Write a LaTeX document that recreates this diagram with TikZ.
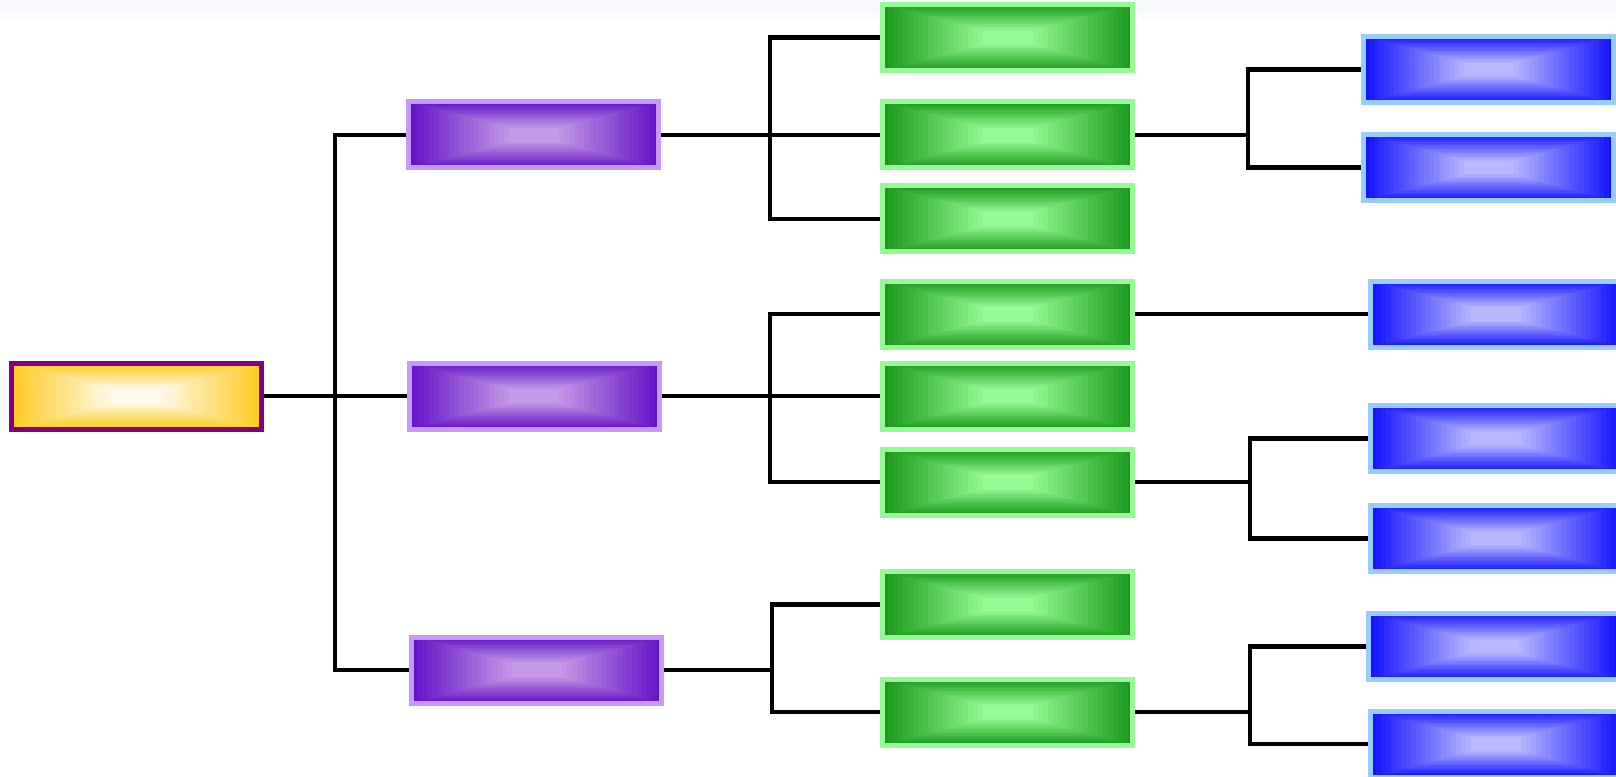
\documentclass[tikz,border=0pt]{standalone}
\usetikzlibrary{calc,backgrounds}
\definecolor{rootB}{HTML}{800080}
\definecolor{rootE}{HTML}{FFCB1F}
\definecolor{rootC}{HTML}{FFF9EE}
\definecolor{purB}{HTML}{C999FA}
\definecolor{purE}{HTML}{6414C8}
\definecolor{purC}{HTML}{C49AE6}
\definecolor{grnB}{HTML}{96F896}
\definecolor{grnE}{HTML}{1A9A1A}
\definecolor{grnC}{HTML}{96FA96}
\definecolor{bluB}{HTML}{99CCFF}
\definecolor{bluE}{HTML}{1414FF}
\definecolor{bluC}{HTML}{B9B9FF}
\definecolor{stripA}{HTML}{F7F8FB}
\definecolor{stripB}{HTML}{FBFCFE}
\tikzset{
  gbox/.style n args={3}{draw=#1, line width=3.75pt, minimum width=187.5pt,
    minimum height=49.5pt, inner sep=0pt, outer sep=0pt,
    path picture={
      \foreach \i in {0,...,20}{
        \pgfmathsetmacro{\f}{0.40*\i/20}
        \pgfmathtruncatemacro{\pc}{100-100*\i/20}
        \fill[#2!\pc!#3] ($(path picture bounding box.south west)!\f!(path picture bounding box.north east)$)
          rectangle ($(path picture bounding box.north east)!\f!(path picture bounding box.south west)$);
      }
    }},
  rootbox/.style={gbox={rootB}{rootE}{rootC}},
  purbox/.style={gbox={purB}{purE}{purC}},
  grnbox/.style={gbox={grnB}{grnE}{grnC}},
  blubox/.style={gbox={bluB}{bluE}{bluC}},
  link/.style={draw=black, line width=3.6pt, line join=miter},
}
\begin{document}
\begin{tikzpicture}[x=0.75pt, y=-0.75pt]
\clip (0,0) rectangle (1616,777);

% root and level 1
\node[rootbox] (root) at (136.5,396) {};
\node[purbox] (p1) at (533.5,135) {};
\node[purbox] (p2) at (534,396) {};
\node[purbox] (p3) at (536.5,670) {};

% level 2
\node[grnbox] (g1) at (1007.5,37.5) {};
\node[grnbox] (g2) at (1007.5,135) {};
\node[grnbox] (g3) at (1007.5,219) {};
\node[grnbox] (g4) at (1007.5,314) {};
\node[grnbox] (g5) at (1007.5,396) {};
\node[grnbox] (g6) at (1007.5,482) {};
\node[grnbox] (g7) at (1007.5,604.5) {};
\node[grnbox] (g8) at (1007.5,712) {};

% level 3
\node[blubox] (b1) at (1488.5,69.5) {};
\node[blubox] (b2) at (1488.5,167.5) {};
\node[blubox] (b3) at (1495.5,314) {};
\node[blubox] (b4) at (1495.5,438.5) {};
\node[blubox] (b5) at (1495.5,538.5) {};
\node[blubox] (b6) at (1493.5,646.5) {};
\node[blubox] (b7) at (1495.5,744) {};

\coordinate (j0) at (335,396);
\coordinate (j1) at (770,135);
\coordinate (j2) at (770,396);
\coordinate (j3) at (772,670);
\coordinate (j4) at (1248,135);
\coordinate (j5) at (1250,482);
\coordinate (j6) at (1250,712);

\begin{pgfonlayer}{background}
\fill[white] (0,0) rectangle (1616,777);
\fill[stripA] (0,0) rectangle (1616,11);
\fill[stripB] (0,11) rectangle (1616,22);

\draw[link] (root.east) -- (j0);
\draw[link] (p1.west) -- (j0 |- p1.west) -- (j0 |- p3.west) -- (p3.west);
\draw[link] (j0) -- (p2.west);

\draw[link] (p1.east) -- (j1);
\draw[link] (g1.west) -- (j1 |- g1.west) -- (j1 |- g3.west) -- (g3.west);
\draw[link] (j1) -- (g2.west);

\draw[link] (p2.east) -- (j2);
\draw[link] (g4.west) -- (j2 |- g4.west) -- (j2 |- g6.west) -- (g6.west);
\draw[link] (j2) -- (g5.west);

\draw[link] (p3.east) -- (j3);
\draw[link] (g7.west) -- (j3 |- g7.west) -- (j3 |- g8.west) -- (g8.west);

\draw[link] (g2.east) -- (j4);
\draw[link] (b1.west) -- (j4 |- b1.west) -- (j4 |- b2.west) -- (b2.west);

\draw[link] (g4.east) -- (b3.west);

\draw[link] (g6.east) -- (j5);
\draw[link] (b4.west) -- (j5 |- b4.west) -- (j5 |- b5.west) -- (b5.west);

\draw[link] (g8.east) -- (j6);
\draw[link] (b6.west) -- (j6 |- b6.west) -- (j6 |- b7.west) -- (b7.west);
\end{pgfonlayer}
\end{tikzpicture}
\end{document}
